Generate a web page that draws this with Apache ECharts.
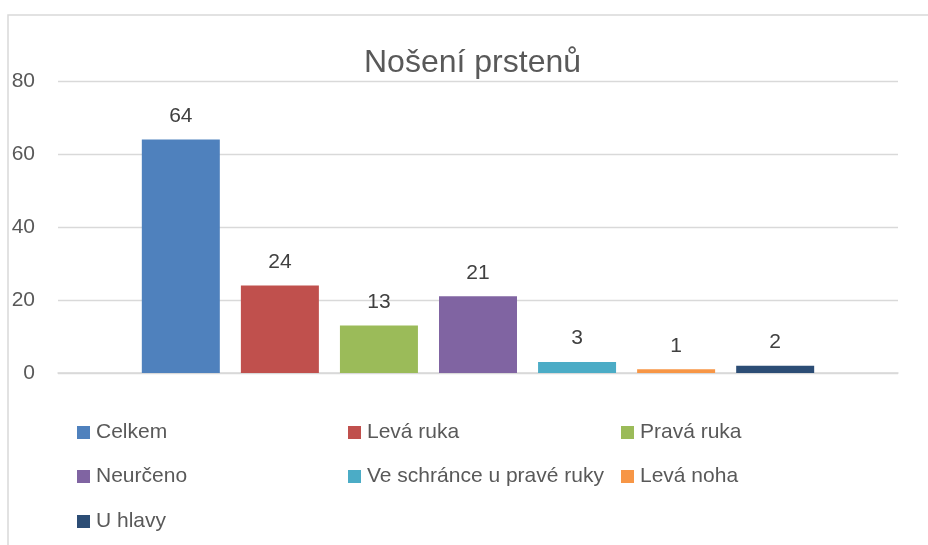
<!DOCTYPE html>
<html><head><meta charset="utf-8">
<script src="https://cdn.jsdelivr.net/npm/echarts@6/dist/echarts.min.js"></script>
<style>html,body{margin:0;padding:0;background:#fff}#c{width:928px;height:545px}</style>
</head><body><div id="c"></div>
<script>
const title = 'Nošení prstenů';
const seriesNames = ['Celkem','Levá ruka','Pravá ruka','Neurčeno','Ve schránce u pravé ruky','Levá noha','U hlavy'];
const seriesValues = [64, 24, 13, 21, 3, 1, 2];
const colors = ['#4F81BD','#C0504D','#9BBB59','#8064A2','#4BACC6','#F79646','#2C4D75'];
const yTicks = [0, 20, 40, 60, 80];

const font = '"Liberation Sans", sans-serif';
const txt = '#595959';
const legendPos = [[72,417],[343,417],[616,417],[72,461],[343,461],[616,461],[72,506]];

const chart = echarts.init(document.getElementById('c'), null, {renderer:'canvas'});
chart.setOption({
  animation:false,
  title:{text:title,left:359,top:42,textStyle:{fontFamily:font,fontSize:32,fontWeight:'normal',color:txt}},
  grid:{left:58,right:30,top:81,height:292},
  xAxis:{type:'category',data:[''],axisLine:{lineStyle:{color:'#d9d9d9',width:1.5}},axisTick:{show:false},axisLabel:{show:false}},
  yAxis:{type:'value',min:yTicks[0],max:yTicks[yTicks.length-1],interval:20,
    axisLine:{show:false},axisTick:{show:false},
    splitLine:{lineStyle:{color:'#d9d9d9',width:1.3}},
    axisLabel:{fontFamily:font,fontSize:21,color:txt,margin:23}},
  legend: seriesNames.map((n,i)=>({data:[n],left:legendPos[i][0],top:legendPos[i][1],
    itemWidth:13,itemHeight:13,itemGap:0,icon:'rect',
    textStyle:{fontFamily:font,fontSize:21,color:txt,padding:[0,0,0,1]}})),
  graphic:[{type:'rect',shape:{x:8,y:15,width:1000,height:600},style:{fill:'none',stroke:'#d9d9d9',lineWidth:1.5},silent:true}],
  series: seriesNames.map((n,i)=>({name:n,type:'bar',data:[seriesValues[i]],
    barWidth:78,barGap:'27%',itemStyle:{color:colors[i]},
    label:{show:true,position:'top',distance:13,fontFamily:font,fontSize:21,color:'#404040'}}))
});
</script></body></html>
